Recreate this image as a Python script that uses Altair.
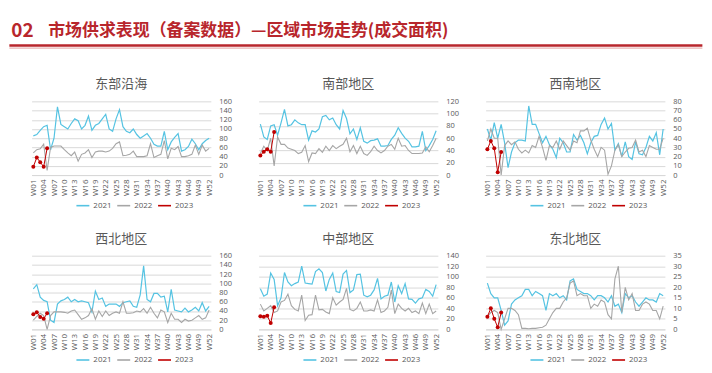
import altair as alt
import pandas as pd

weeks = [f"W{i:02d}" for i in range(1, 53)]
label_weeks = weeks[::3]
years = ["2021", "2022", "2023"]
colors = ["#55C3E2", "#A6A6A6", "#C00000"]

east_2021 = [85,88,97,105,108,55,80,148,110,105,100,112,122,118,100,108,128,97,108,112,122,132,100,95,122,142,105,95,92,100,88,80,85,90,80,67,63,63,95,55,72,82,90,52,55,62,78,68,55,68,75,80]
east_2022 = [48,55,57,67,10,60,63,63,63,55,48,42,50,30,45,48,55,38,50,52,52,50,52,58,68,72,42,43,45,52,40,40,40,42,68,38,42,45,75,35,58,55,62,40,40,42,45,65,45,65,52,58]
east_2023 = [18,38,28,18,58]

south_2021 = [83,62,58,80,82,65,85,107,80,82,90,85,82,82,57,72,70,75,95,97,90,93,82,75,105,92,67,75,58,77,55,52,56,57,59,47,47,48,58,65,77,68,60,55,46,46,47,71,40,48,58,72]
south_2022 = [35,47,40,60,15,62,50,50,44,42,40,35,37,48,22,36,35,43,37,47,40,48,43,47,50,60,38,48,35,47,35,32,38,47,40,36,40,47,50,42,60,47,48,40,35,35,35,36,46,38,48,60]
south_2023 = [32,38,42,38,70]

sw_2021 = [50,38,57,40,55,35,8,25,35,38,38,37,75,55,55,45,35,42,33,28,19,40,35,25,25,44,38,43,35,23,35,42,43,55,62,50,56,27,34,20,36,20,17,36,23,22,30,42,37,46,22,50]
sw_2022 = [37,50,40,40,0,32,37,33,36,28,24,27,24,32,30,42,30,16,32,30,37,28,37,32,27,37,35,48,48,51,38,28,20,30,27,1,10,27,33,20,25,29,30,38,25,27,20,32,30,28,28,40]
sw_2023 = [28,37,29,3,25]

nw_2021 = [88,97,70,63,60,20,15,55,62,65,70,60,65,60,62,60,58,38,83,65,68,50,55,55,55,50,58,60,62,50,48,75,138,65,60,78,78,70,72,38,87,42,40,38,46,38,42,48,40,58,40,50]
nw_2022 = [20,28,35,30,0,30,38,38,38,37,35,40,42,32,22,25,30,45,22,40,28,40,30,35,38,35,60,35,35,36,40,38,45,35,48,35,25,42,38,15,35,22,22,15,22,18,20,25,30,22,25,42]
nw_2023 = [33,37,27,23,35]

mid_2021 = [77,63,67,107,95,45,60,108,90,83,87,90,120,88,87,86,110,115,108,73,95,107,72,70,105,112,70,75,104,105,65,62,65,75,97,58,63,65,90,52,83,68,87,58,57,50,58,60,76,72,63,85]
mid_2022 = [48,35,40,45,32,35,52,55,67,45,38,35,65,17,27,28,65,37,38,33,30,60,46,52,57,78,38,35,40,52,35,35,37,35,56,32,35,42,75,30,48,40,35,40,32,35,30,50,30,48,30,35]
mid_2023 = [25,24,26,12,42]

ne_2021 = [22,17,15,15,9,2,4,12,14,15,16,19,19,16,18,17,16,9,17,16,17,15,16,14,23,24,19,18,17,17,16,14,16,16,15,13,16,11,12,8,17,15,16,13,11,13,15,14,14,13,17,16]
ne_2022 = [6,8,9,8,0,5,10,10,9,7,0.5,0.5,0.3,0.5,0.5,0.8,1,2,5,8,10,10,13,15,22,23,16,17,16,16,10,12,11,14,13,7,5,24,30,8,20,14,17,9,9,12,13,12,9,9,5,11]
ne_2023 = [6,10,5,1,8]

panels = [
    ("东部沿海", 160, 20, east_2021, east_2022, east_2023),
    ("南部地区", 120, 20, south_2021, south_2022, south_2023),
    ("西南地区", 80, 10, sw_2021, sw_2022, sw_2023),
    ("西北地区", 160, 20, nw_2021, nw_2022, nw_2023),
    ("中部地区", 140, 20, mid_2021, mid_2022, mid_2023),
    ("东北地区", 35, 5, ne_2021, ne_2022, ne_2023),
]

LABEL_FONT = "Open Sans"
CJK = "Noto Sans CJK SC"


def panel(name, ymax, step, v21, v22, v23):
    rows = []
    for yr, vals in zip(years, (v21, v22, v23)):
        for w, v in zip(weeks, vals):
            rows.append({"week": w, "year": yr, "value": v})
    df = pd.DataFrame(rows)
    x = alt.X("week:N", sort=weeks,
              scale=alt.Scale(type="point", padding=0.5, domain=weeks),
              axis=alt.Axis(values=label_weeks, labelAngle=270, title=None, ticks=False,
                            domainColor="#D9D9D9", labelFontSize=8, labelColor="#595959",
                            labelFont=LABEL_FONT, grid=False, labelPadding=4))
    y = alt.Y("value:Q", scale=alt.Scale(domain=[0, ymax], nice=False, zero=True),
              axis=alt.Axis(orient="right", values=list(range(0, ymax + 1, step)), title=None,
                            domain=False, ticks=False, gridColor="#D9D9D9", labelFontSize=7.5,
                            labelColor="#595959", labelFont=LABEL_FONT, labelPadding=8,
                            labelOverlap=False))
    color = alt.Color("year:N", scale=alt.Scale(domain=years, range=colors),
                      legend=alt.Legend(title=None, orient="none", legendX=44, legendY=97,
                                        direction="horizontal", symbolType="stroke",
                                        symbolSize=169, symbolStrokeWidth=1.6,
                                        labelFontSize=8, labelColor="#595959",
                                        labelFont=LABEL_FONT, columnPadding=1,
                                        labelOffset=3, symbolOffset=0))
    lines = alt.Chart(df).mark_line().encode(
        x=x, y=y, color=color,
        strokeWidth=alt.StrokeWidth("year:N", scale=alt.Scale(domain=years, range=[1.2, 1.0, 2.0]),
                                    legend=None))
    pts = alt.Chart(df[df["year"] == "2023"]).mark_point(filled=True, size=16, opacity=1).encode(
        x=x, y=y, color=color)
    return alt.layer(lines, pts).properties(
        width=180, height=74,
        title=alt.TitleParams(name, fontSize=13, color="#595959", font=CJK,
                              fontWeight="normal", offset=6))


charts = [panel(*p) for p in panels]

row1 = alt.hconcat(*charts[:3], spacing=24).resolve_scale(color="independent", y="independent").resolve_legend(color="independent")
row2 = alt.hconcat(*charts[3:], spacing=24).resolve_scale(color="independent", y="independent").resolve_legend(color="independent")
rows = alt.vconcat(row1, row2, spacing=23).resolve_scale(color="independent", y="independent").resolve_legend(color="independent")

hdf = pd.DataFrame({"a": [0]})
h_num = alt.Chart(hdf).mark_text(text="02", font=CJK, fontSize=19, fontWeight="bold",
                                 color="#B8262C", align="left", baseline="middle").encode(
    x=alt.value(2), y=alt.value(22))
h_txt = alt.Chart(hdf).mark_text(text="市场供求表现（备案数据）—区域市场走势(成交面积)", font=CJK,
                                 fontSize=17, fontWeight="bold", color="#B8262C",
                                 align="left", baseline="middle").encode(
    x=alt.value(39), y=alt.value(22))
h_rule = alt.Chart(hdf).mark_rule(color="#B8262C", strokeWidth=2.5).encode(
    x=alt.value(0), x2=alt.value(696), y=alt.value(37))
h_rule2 = alt.Chart(hdf).mark_rule(color="#E3A0A0", strokeWidth=1).encode(
    x=alt.value(0), x2=alt.value(696), y=alt.value(39.5))
header = alt.layer(h_num, h_txt, h_rule, h_rule2).properties(width=696, height=40)

chart = alt.vconcat(header, rows, spacing=30, center=True).resolve_scale(
    color="independent", y="independent").resolve_legend(color="independent").properties(
    padding=0).configure(background="white").configure_view(stroke=None)

chart.save("out.html", embed_options={"renderer": "svg", "actions": False})
